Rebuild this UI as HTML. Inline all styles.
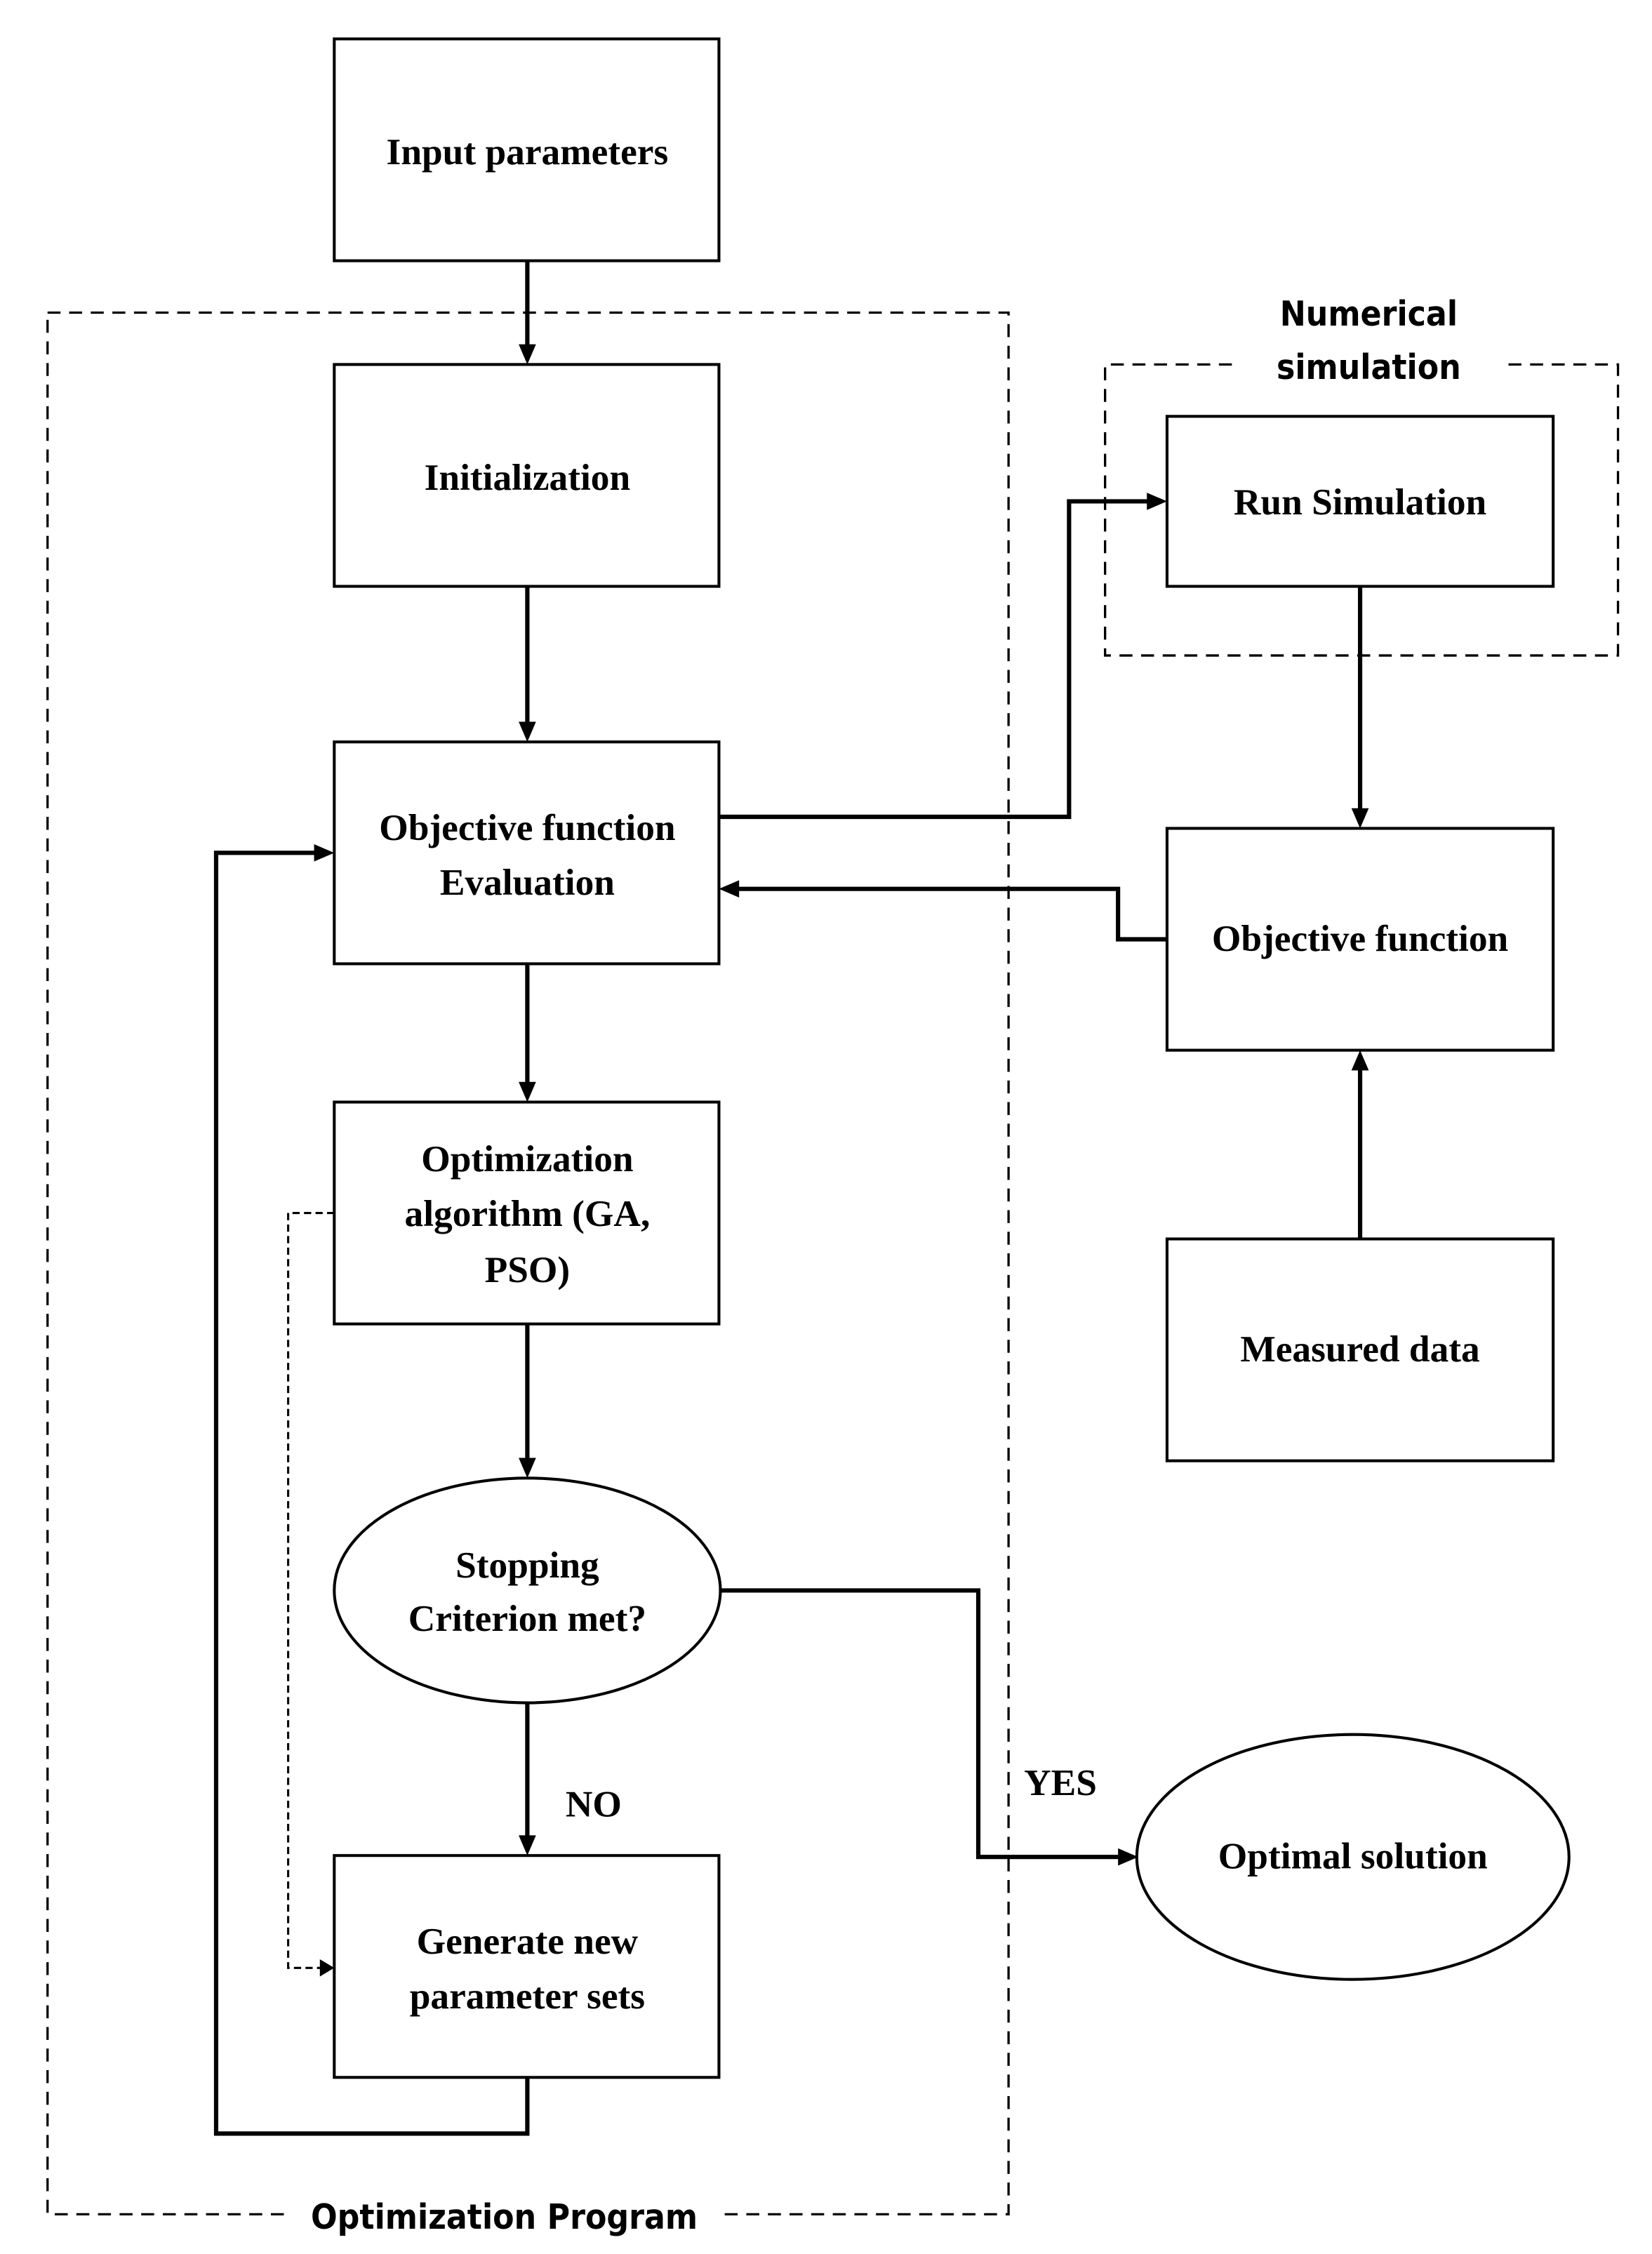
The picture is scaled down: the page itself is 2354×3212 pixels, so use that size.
<!DOCTYPE html>
<html><head><meta charset="utf-8"><style>html,body{margin:0;padding:0;background:#fff}svg{display:block}</style></head>
<body>
<svg width="2354" height="3212" viewBox="0 0 1146.6 1564.6" preserveAspectRatio="none" xmlns="http://www.w3.org/2000/svg">
<rect width="1146.6" height="1564.6" fill="#fff"/>
<g fill="none" stroke="#000" stroke-width="1.6" stroke-dasharray="9,6">
<rect x="33" y="217" width="667" height="1320"/>
<path d="M855,253H767V455H1123V253H1045"/>
</g>
<rect x="200" y="1525" width="300" height="26" fill="#fff"/>
<g fill="#fff" stroke="#000" stroke-width="2">
<rect x="232" y="27" width="267" height="154"/>
<rect x="232" y="253" width="267" height="154"/>
<rect x="232" y="515" width="267" height="154"/>
<rect x="232" y="765" width="267" height="154"/>
<ellipse cx="366" cy="1104" rx="134" ry="78"/>
<rect x="232" y="1288" width="267" height="154"/>
<ellipse cx="939" cy="1289" rx="150" ry="85"/>
<rect x="810" y="289" width="268" height="118"/>
<rect x="810" y="575" width="268" height="154"/>
<rect x="810" y="860" width="268" height="154"/>
</g>
<g fill="none" stroke="#000" stroke-width="3">
<path d="M366,181V240"/>
<path d="M366,407V502"/>
<path d="M366,669V752"/>
<path d="M366,919V1013"/>
<path d="M366,1182V1275"/>
<path d="M366,1442V1481H150V592H219"/>
<path d="M499,1104H679V1289H777"/>
<path d="M499,567H742V348H797"/>
<path d="M944,407V562"/>
<path d="M810,652H776V617H512"/>
<path d="M944,860V742"/>
</g>
<g fill="#000">
<path d="M360,239L372,239L366,253z"/>
<path d="M360,501L372,501L366,515z"/>
<path d="M360,751L372,751L366,765z"/>
<path d="M360,1012L372,1012L366,1026z"/>
<path d="M360,1274L372,1274L366,1288z"/>
<path d="M218,586L218,598L232,592z"/>
<path d="M776,1283L776,1295L790,1289z"/>
<path d="M796,342L796,354L810,348z"/>
<path d="M938,561L950,561L944,575z"/>
<path d="M513,611L513,623L499,617z"/>
<path d="M938,743L950,743L944,729z"/>
<path d="M222,1360L232,1366L222,1372z"/>
</g>
<path d="M232,842H200V1366H224" fill="none" stroke="#000" stroke-width="1.5" stroke-dasharray="5,3"/>
<g font-family="Liberation Serif, serif" font-weight="bold" font-size="26" text-anchor="middle">
<text x="366" y="114">Input parameters</text>
<text x="366" y="340">Initialization</text>
<text x="366" y="583">Objective function</text>
<text x="366" y="621">Evaluation</text>
<text x="366" y="813">Optimization</text>
<text x="366" y="851">algorithm (GA,</text>
<text x="366" y="890">PSO)</text>
<text x="366" y="1095">Stopping</text>
<text x="366" y="1132">Criterion met?</text>
<text x="366" y="1356">Generate new</text>
<text x="366" y="1394">parameter sets</text>
<text x="412" y="1261">NO</text>
<text x="736" y="1246">YES</text>
<text x="939" y="1297">Optimal solution</text>
<text x="944" y="357">Run Simulation</text>
<text x="944" y="660">Objective function</text>
<text x="944" y="945">Measured data</text>
</g>
<g font-family="DejaVu Sans Condensed, Liberation Sans, sans-serif" font-weight="bold" font-size="24" text-anchor="middle">
<text x="950" y="226">Numerical</text>
<text x="950" y="263">simulation</text>
<text x="350" y="1547">Optimization Program</text>
</g>
</svg>
</body></html>
